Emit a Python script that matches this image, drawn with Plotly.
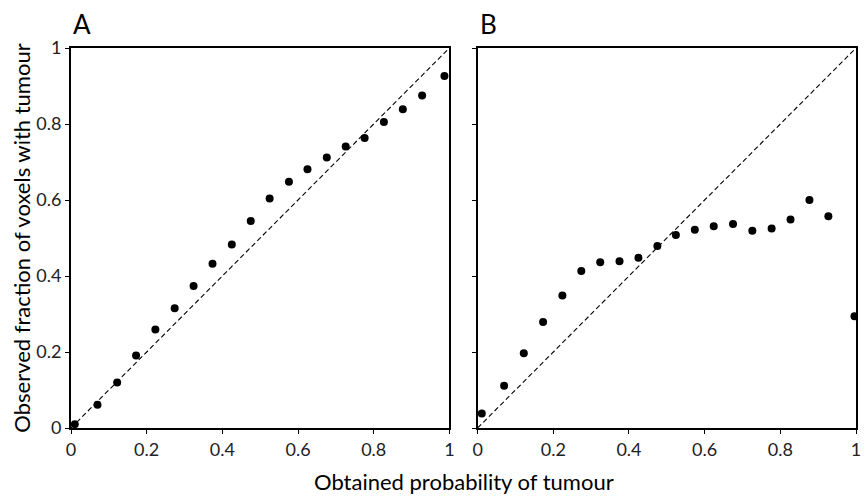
import plotly.graph_objects as go
from plotly.subplots import make_subplots

# Panel A data
a_x = [0.01, 0.07, 0.122, 0.172, 0.223, 0.274, 0.324, 0.374, 0.425, 0.475,
       0.525, 0.576, 0.625, 0.676, 0.726, 0.776, 0.827, 0.877, 0.928, 0.987]
a_y = [0.01, 0.061, 0.120, 0.191, 0.259, 0.315, 0.374, 0.432, 0.483, 0.545,
       0.604, 0.648, 0.681, 0.712, 0.741, 0.763, 0.805, 0.839, 0.875, 0.926]

# Panel B data
b_x = [0.011, 0.070, 0.122, 0.173, 0.224, 0.274, 0.324, 0.375, 0.425, 0.475,
       0.524, 0.574, 0.624, 0.675, 0.726, 0.777, 0.827, 0.877, 0.927, 0.996]
b_y = [0.038, 0.111, 0.197, 0.279, 0.349, 0.413, 0.436, 0.439, 0.448, 0.479,
       0.508, 0.522, 0.531, 0.537, 0.519, 0.525, 0.549, 0.600, 0.557, 0.294]

diag = [0, 1]
tick_vals = [0, 0.2, 0.4, 0.6, 0.8, 1]
tick_text = ["0", "0.2", "0.4", "0.6", "0.8", "1"]
panel_labels = ["A", "B"]

FONT = "Lato"

fig = make_subplots(rows=1, cols=2, horizontal_spacing=0.036)

for col, (xs, ys) in enumerate([(a_x, a_y), (b_x, b_y)], start=1):
    fig.add_trace(go.Scatter(x=diag, y=diag, mode="lines",
                             line=dict(color="black", width=1.1, dash="5px,3px"),
                             showlegend=False, hoverinfo="skip"), row=1, col=col)
    fig.add_trace(go.Scatter(x=xs, y=ys, mode="markers",
                             marker=dict(color="black", size=8),
                             showlegend=False), row=1, col=col)

axis_common = dict(range=[0, 1], tickvals=tick_vals, ticktext=tick_text,
                   showgrid=False, zeroline=False, showline=True, mirror=True,
                   linecolor="black", linewidth=2, ticks="outside", ticklen=4,
                   tickcolor="black", tickwidth=1,
                   tickfont=dict(family=FONT, size=18, color="#222"))

fig.update_xaxes(**axis_common)
fig.update_yaxes(**axis_common)
fig.update_yaxes(showticklabels=False, row=1, col=2)
fig.update_yaxes(title=dict(text="Observed fraction of voxels with tumour",
                            font=dict(family=FONT, size=22, color="black"),
                            standoff=0), row=1, col=1)

fig.add_annotation(text="Obtained probability of tumour", xref="paper", yref="paper",
                   x=0.5, y=-0.1, xanchor="center", yanchor="top", showarrow=False,
                   font=dict(family=FONT, size=22, color="black"))

for i, lab in enumerate(panel_labels):
    xd = "x domain" if i == 0 else "x2 domain"
    fig.add_annotation(text=lab, xref=xd, yref="paper", x=0, y=1.0,
                       xanchor="left", yanchor="bottom", yshift=6, showarrow=False,
                       font=dict(family=FONT, size=26, color="black"))

fig.update_layout(width=866, height=497, margin=dict(l=71, r=5, t=48, b=69),
                  plot_bgcolor="white", paper_bgcolor="white")

fig.write_html("out.html")
